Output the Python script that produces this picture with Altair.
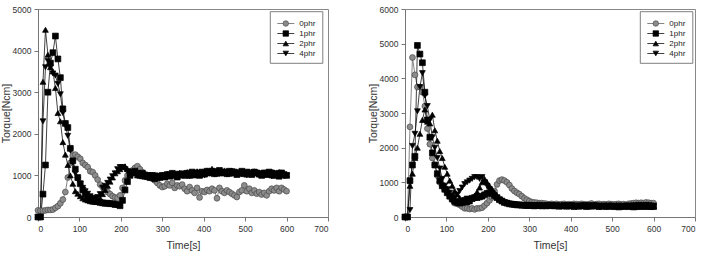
import altair as alt
import pandas as pd

# Sampling grid (seconds) shared by every torque curve
times = list(range(0, 601, 6))
series_names = ["0phr", "1phr", "2phr", "4phr"]

# ---- left panel: torque [Ncm] ----
left_0phr = [160, 150, 150, 160, 170, 170, 180, 220, 260, 330,
             420, 600, 950, 1300, 1480, 1500, 1450, 1400, 1300, 1250,
             1200, 1100, 1080, 1000, 900, 780, 720, 680, 600, 550,
             500, 470, 460, 520, 700, 880, 1000, 1080, 1120, 1180,
             1220, 1150, 1080, 1020, 980, 950, 920, 880, 820, 760,
             720, 740, 800, 760, 820, 700, 760, 740, 780, 680,
             620, 720, 640, 580, 700, 470, 620, 600, 650, 620,
             680, 640, 450, 700, 620, 580, 640, 600, 560, 520,
             480, 600, 640, 760, 620, 680, 580, 640, 560, 600,
             540, 580, 520, 620, 680, 640, 700, 620, 700, 660,
             620]
left_1phr = [0, 0, 550, 1250, 3000, 3700, 3950, 4350, 3800, 3350,
             2600, 2250, 2150, 1650, 1350, 1150, 950, 800, 650, 550,
             480, 450, 420, 400, 370, 350, 340, 330, 330, 320,
             320, 300, 300, 270, 400, 650, 850, 1000, 1080, 1100,
             1050, 1000, 1050, 980, 1000, 950, 1000, 920, 980, 950,
             1000, 960, 1020, 980, 1050, 1000, 960, 1020, 1040, 1000,
             1050, 1000, 1080, 1020, 1060, 1000, 1080, 1040, 1100, 1060,
             1100, 1040, 1080, 1120, 1060, 1080, 1040, 1100, 1060, 1080,
             1020, 1060, 1100, 1040, 1080, 1060, 1020, 1080, 1060, 1040,
             1000, 1060, 1020, 1080, 1060, 1000, 1040, 980, 1060, 1020,
             1000]
left_2phr = [0, 0, 3250, 4500, 3900, 3600, 3500, 3100, 2500, 2300,
             1800, 1500, 1250, 1000, 800, 620, 560, 500, 450, 420,
             400, 380, 370, 360, 380, 450, 550, 650, 750, 850,
             950, 1050, 1100, 1150, 1200, 1220, 1150, 1100, 1050, 1080,
             1000, 1050, 980, 1020, 960, 1000, 940, 980, 1000, 960,
             1020, 980, 1040, 1000, 1060, 1020, 980, 1060, 1000, 1040,
             1080, 1020, 1060, 1000, 1100, 1040, 1080, 1020, 1120, 1060,
             1160, 1080, 1040, 1100, 1060, 1120, 1080, 1040, 1100, 1060,
             1080, 1040, 1100, 1060, 1020, 1080, 1040, 1100, 1060, 1020,
             1060, 1020, 1080, 1040, 1000, 1060, 1020, 1080, 1040, 1000,
             1020]
left_4phr = [0, 0, 2300, 3600, 3750, 3600, 3450, 3400, 3200, 2950,
             2500, 2200, 1950, 1600, 1300, 1050, 900, 800, 700, 620,
             560, 500, 460, 440, 480, 550, 700, 750, 820, 900,
             980, 1050, 1150, 1200, 1200, 1150, 1100, 1080, 1020, 1050,
             1000, 1040, 980, 1020, 960, 1000, 960, 1000, 980, 940,
             980, 1000, 960, 1020, 980, 1000, 1040, 980, 1020, 1000,
             1040, 980, 1060, 1020, 1000, 1060, 1040, 1000, 1080, 1040,
             1060, 1020, 1100, 1060, 1040, 1080, 1020, 1060, 1100, 1040,
             1060, 1020, 1080, 1040, 1000, 1060, 1020, 1080, 1040, 1000,
             1040, 1000, 1060, 1020, 980, 1040, 1000, 1060, 1020, 980,
             1000]

# ---- right panel: torque [Ncm] ----
right_0phr = [0, 0, 2600, 4600, 4100, 3750, 3750, 3600, 3200, 2550,
              2100, 1700, 1500, 1200, 1000, 900, 800, 700, 600, 500,
              400, 380, 350, 300, 250, 250, 230, 250, 220, 250,
              250, 270, 330, 400, 480, 570, 750, 940, 1050, 1080,
              1050, 1000, 920, 820, 750, 700, 660, 600, 540, 500,
              460, 430, 420, 410, 400, 400, 390, 380, 370, 380,
              370, 380, 360, 370, 380, 360, 370, 360, 380, 370,
              360, 380, 370, 360, 370, 390, 360, 370, 380, 360,
              370, 360, 380, 370, 360, 370, 380, 360, 370, 350,
              380, 390, 400, 410, 400, 410, 400, 420, 410, 400,
              400]
right_1phr = [0, 0, 1050, 1500, 1750, 4950, 4700, 4450, 3600, 2800,
              2300, 1850, 1500, 1250, 1050, 900, 800, 700, 600, 520,
              450, 420, 400, 420, 480, 520, 500, 540, 560, 560,
              580, 600, 640, 680, 700, 680, 620, 560, 500, 460,
              420, 400, 380, 370, 360, 350, 350, 340, 340, 330,
              340, 330, 320, 330, 340, 320, 330, 320, 340, 330,
              320, 330, 310, 320, 330, 310, 320, 330, 300, 320,
              310, 320, 330, 300, 320, 310, 330, 320, 300, 310,
              320, 300, 310, 320, 300, 310, 290, 310, 300, 320,
              300, 310, 290, 300, 310, 300, 320, 300, 310, 300,
              300]
right_2phr = [0, 0, 900, 1250, 1700, 2000, 2400, 2800, 3100, 2750,
              2700, 2950, 2500, 2200, 1900, 1700, 1450, 1250, 1050, 900,
              750, 650, 550, 480, 430, 420, 450, 520, 620, 720,
              850, 1000, 1100, 1000, 900, 800, 700, 600, 520, 470,
              430, 410, 400, 380, 370, 360, 350, 350, 340, 340,
              340, 330, 340, 320, 330, 340, 330, 320, 330, 340,
              330, 320, 330, 340, 320, 330, 320, 340, 330, 320,
              330, 320, 340, 330, 320, 330, 340, 320, 330, 320,
              330, 340, 320, 330, 320, 340, 330, 320, 330, 340,
              320, 330, 340, 330, 320, 330, 340, 330, 320, 330,
              320]
right_4phr = [0, 0, 200, 2050, 2400, 3050, 3750, 4150, 3500, 3200,
              2800, 2300, 2000, 1700, 1400, 1100, 900, 800, 700, 600,
              550, 650, 750, 850, 950, 1000, 1050, 1100, 1150, 1150,
              1100, 1150, 1000, 900, 800, 700, 600, 550, 500, 450,
              420, 400, 380, 370, 360, 350, 350, 340, 340, 330,
              330, 320, 340, 330, 320, 330, 310, 330, 320, 340,
              320, 330, 320, 310, 330, 320, 340, 320, 330, 310,
              320, 330, 310, 320, 340, 320, 310, 330, 320, 300,
              320, 310, 330, 300, 320, 310, 330, 320, 310, 320,
              330, 320, 340, 330, 350, 340, 330, 350, 340, 330,
              330]

# Marker / line styling per series
shape_range = ["circle", "square", "triangle-up", "triangle-down"]
fill_range = ["#8c8c8c", "#000000", "#000000", "#000000"]
stroke_range = ["#4a4a4a", "#000000", "#000000", "#000000"]
line_range = ["#666666", "#111111", "#111111", "#111111"]

FONT = "Liberation Sans"
PLOT_W, PLOT_H = 290, 208
MARK_SIZE = 34


def long_table(columns):
    rows = []
    for name, vals in zip(series_names, columns):
        for t, v in zip(times, vals):
            rows.append({"time": t, "torque": v, "series": name})
    return pd.DataFrame(rows)


def series_encodings():
    return dict(
        shape=alt.Shape("series:N", scale=alt.Scale(domain=series_names, range=shape_range), legend=None),
        fill=alt.Fill("series:N", scale=alt.Scale(domain=series_names, range=fill_range), legend=None),
        stroke=alt.Stroke("series:N", scale=alt.Scale(domain=series_names, range=stroke_range), legend=None),
    )


def line_color():
    return alt.Color("series:N", scale=alt.Scale(domain=series_names, range=line_range), legend=None)


def panel(columns, ymax, leg_x):
    df = long_table(columns)
    x = alt.X("time:Q", title="Time[s]",
              scale=alt.Scale(domain=[0, 700], nice=False),
              axis=alt.Axis(values=list(range(0, 701, 100)), format="d"))
    y = alt.Y("torque:Q", title="Torque[Ncm]",
              scale=alt.Scale(domain=[0, ymax], nice=False),
              axis=alt.Axis(values=list(range(0, ymax + 1, 1000)), format="d"))

    lines = alt.Chart(df).mark_line(strokeWidth=0.8).encode(
        x=x, y=y, color=line_color(), detail="series:N")
    points = alt.Chart(df).mark_point(size=MARK_SIZE, strokeWidth=0.7, opacity=1, fillOpacity=1).encode(
        x=x, y=y, **series_encodings())
    curves = alt.layer(lines, points)

    # Boxed key in the upper right of the plot
    legend_df = pd.DataFrame({"series": series_names, "row": [0, 1, 2, 3]})
    leg_y = alt.Y("row:Q", scale=alt.Scale(domain=[0, 3], range=[14.5, 44.5]), axis=None)
    box = alt.Chart(pd.DataFrame({"k": [0]})).mark_rect(
        fill="white", stroke="#707070", strokeWidth=0.9).encode(
        x=alt.value(leg_x), x2=alt.value(leg_x + 52.5),
        y=alt.value(2.7), y2=alt.value(54.3))
    key_lines = alt.Chart(legend_df).mark_rule(strokeWidth=0.8).encode(
        x=alt.value(leg_x + 7), x2=alt.value(leg_x + 24), y=leg_y, color=line_color())
    key_points = alt.Chart(legend_df).mark_point(size=30, strokeWidth=0.7, opacity=1, fillOpacity=1).encode(
        x=alt.value(leg_x + 15.5), y=leg_y, **series_encodings())
    key_text = alt.Chart(legend_df).mark_text(
        align="left", baseline="middle", fontSize=8, font=FONT, color="#222").encode(
        x=alt.value(leg_x + 29), y=leg_y, text="series:N")
    key = alt.layer(key_lines, key_points, key_text)

    return alt.layer(curves, box, key).resolve_scale(
        y="independent").properties(width=PLOT_W, height=PLOT_H)


left = panel([left_0phr, left_1phr, left_2phr, left_4phr], 5000, 232.3)
right = panel([right_0phr, right_1phr, right_2phr, right_4phr], 6000, 235.3)

chart = alt.hconcat(left, right, spacing=38).properties(
    padding={"left": 0, "top": 4, "right": 0, "bottom": 5},
    background="white",
).configure_view(
    stroke="#888888", strokeWidth=1
).configure_axis(
    grid=False,
    labelFont=FONT, titleFont=FONT,
    labelFontSize=8.5, titleFontSize=10.5,
    labelColor="#333", titleColor="#333",
    titleFontWeight="normal",
    domainColor="#777", tickColor="#777",
    tickSize=4, labelPadding=3,
).configure_axisX(
    titlePadding=8
).configure_axisY(
    titlePadding=1
)

chart.save("out.html", embed_options={"renderer": "svg", "actions": False})
